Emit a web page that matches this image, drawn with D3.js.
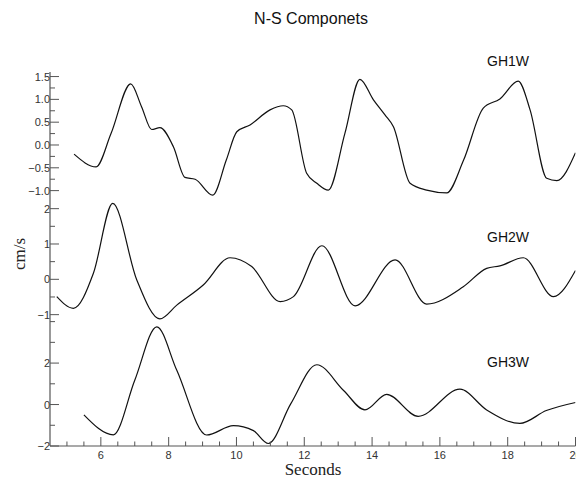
<!DOCTYPE html>
<html><head><meta charset="utf-8">
<script src="https://cdn.jsdelivr.net/npm/d3@7"></script>
<style>body{margin:0;background:#fff}svg{display:block}</style>
</head><body>
<svg id="c" width="576" height="478"></svg>
<script>
const title = "N-S Componets";
const xLabel = "Seconds";
const yLabel = "cm/s";
const seriesNames = ["GH1W", "GH2W", "GH3W"];

const t1 = [5.21,5.86,6.3,6.88,7.2,7.5,7.74,8.14,8.48,8.78,9.30,9.7,10.01,10.40,10.99,11.38,11.63,12.07,12.37,12.71,13.2,13.64,14.04,14.38,14.63,15.12,15.61,16.20,16.7,17.28,17.77,18.31,18.66,19.15,19.45,20.0];
const v1 = [-0.20,-0.48,0.25,1.34,0.84,0.34,0.38,-0.04,-0.71,-0.75,-1.10,-0.33,0.29,0.44,0.77,0.86,0.77,-0.62,-0.84,-0.99,0.26,1.44,0.99,0.66,0.40,-0.84,-0.99,-1.05,-0.33,0.81,1.01,1.40,0.77,-0.73,-0.78,-0.17];

const t2 = [4.70,5.19,5.78,6.35,7.06,7.74,8.24,9.02,9.81,10.45,11.29,11.68,12.52,13.50,14.68,15.61,16.69,17.38,17.77,18.46,19.35,20.0];
const v2 = [-0.49,-0.82,0.17,2.15,-0.02,-1.12,-0.73,-0.16,0.61,0.36,-0.63,-0.49,0.95,-0.75,0.55,-0.70,-0.21,0.31,0.38,0.61,-0.49,0.25];

const t3 = [5.50,6.37,7.0,7.65,8.24,9.12,9.91,10.50,10.94,11.6,12.37,13.16,13.79,14.43,15.36,16.59,17.38,18.36,19.14,20.0];
const v3 = [-0.50,-1.46,1.17,3.75,1.65,-1.47,-1.02,-1.26,-1.88,0.03,1.92,0.68,-0.26,0.49,-0.57,0.74,-0.26,-0.91,-0.29,0.10];

const xTicks = [6,8,10,12,14,16,18,20];
const yTicks1 = [-1.0,-0.5,0.0,0.5,1.0,1.5];
const yTicks2 = [-1,0,1,2];
const yTicks3 = [-2,0,2];

const svg = d3.select("#c");
const x = d3.scaleLinear().domain([4.5, 20]).range([50, 575.5]);

const panels = [
  {t:t1, v:v1, dom:[-1.14,1.6], rng:[197,72], ticks:yTicks1, minor:0.25, fmt:d3.format(".1f"), name:seriesNames[0], ly:66},
  {t:t2, v:v2, dom:[-1.18,2.33], rng:[321,197], ticks:yTicks2, minor:0.5, fmt:d3.format("d"), name:seriesNames[1], ly:242},
  {t:t3, v:v3, dom:[-2,4.03], rng:[446,321], ticks:yTicks3, minor:1, fmt:d3.format("d"), name:seriesNames[2], ly:367}
];

const tickFont = "'Liberation Sans Narrow','Liberation Sans',Arial,sans-serif";

panels.forEach(p => {
  const y = d3.scaleLinear().domain(p.dom).range(p.rng);
  const data = p.t.map((tt,i)=>[tt,p.v[i]]);
  const clipId = "clip"+p.name;
  svg.append("clipPath").attr("id", clipId).append("rect")
    .attr("x", 50).attr("y", 0).attr("width", 525.5).attr("height", 478);
  svg.append("path").datum(data)
    .attr("clip-path", `url(#${clipId})`)
    .attr("fill","none").attr("stroke","#111").attr("stroke-width",1.2)
    .attr("d", d3.line().x(d=>x(d[0])).y(d=>y(d[1])).curve(d3.curveMonotoneX));
  const minors = d3.range(Math.ceil(p.dom[0]/p.minor)*p.minor, p.dom[1]+1e-9, p.minor)
    .filter(m => !p.ticks.some(t=>Math.abs(t-m)<1e-9));
  svg.append("g").selectAll("line").data(minors).join("line")
    .attr("x1",50).attr("x2",55).attr("y1",d=>y(d)).attr("y2",d=>y(d))
    .attr("stroke","#555").attr("stroke-width",1);
  svg.append("g").selectAll("line").data(p.ticks).join("line")
    .attr("x1",50).attr("x2",59).attr("y1",d=>y(d)).attr("y2",d=>y(d))
    .attr("stroke","#555").attr("stroke-width",1);
  svg.append("g").selectAll("text").data(p.ticks).join("text")
    .attr("x",50).attr("y",d=>y(d)).attr("dy","0.36em")
    .attr("text-anchor","end").attr("font-family",tickFont).attr("font-size",11)
    .attr("fill","#333").text(d=>d<0 ? "\u2212"+p.fmt(-d) : p.fmt(d));
  svg.append("text").attr("x",487).attr("y",p.ly)
    .attr("font-family","'Liberation Sans',Arial,sans-serif").attr("font-size",14)
    .attr("fill","#111").text(p.name);
});

svg.append("line").attr("x1",50).attr("x2",50).attr("y1",72).attr("y2",446)
  .attr("stroke","#555").attr("stroke-width",1.2);
svg.append("line").attr("x1",50).attr("x2",575.5).attr("y1",446).attr("y2",446)
  .attr("stroke","#555").attr("stroke-width",1.2);
const xMinor = d3.range(5,20,0.5).filter(m=>!xTicks.includes(m));
svg.append("g").selectAll("line").data(xMinor).join("line")
  .attr("x1",d=>x(d)).attr("x2",d=>x(d)).attr("y1",446).attr("y2",441.5)
  .attr("stroke","#555");
svg.append("g").selectAll("line").data(xTicks).join("line")
  .attr("x1",d=>x(d)).attr("x2",d=>x(d)).attr("y1",446).attr("y2",437)
  .attr("stroke","#555");
svg.append("g").selectAll("text").data(xTicks).join("text")
  .attr("x",d=>x(d)).attr("y",459).attr("text-anchor","middle")
  .attr("font-family",tickFont).attr("font-size",11).attr("fill","#333").text(d=>d);

svg.append("text").attr("x",313).attr("y",475).attr("text-anchor","middle")
  .attr("font-family","'Liberation Serif','Times New Roman',serif").attr("font-size",17)
  .attr("fill","#222").text(xLabel);
svg.append("text").attr("transform","translate(25,254) rotate(-90)").attr("text-anchor","middle")
  .attr("font-family","'Liberation Serif','Times New Roman',serif").attr("font-size",17)
  .attr("fill","#222").text(yLabel);
svg.append("text").attr("x",311).attr("y",24).attr("text-anchor","middle")
  .attr("font-family","'Liberation Sans',Arial,sans-serif").attr("font-size",16)
  .attr("fill","#111").text(title);
</script>
</body></html>
